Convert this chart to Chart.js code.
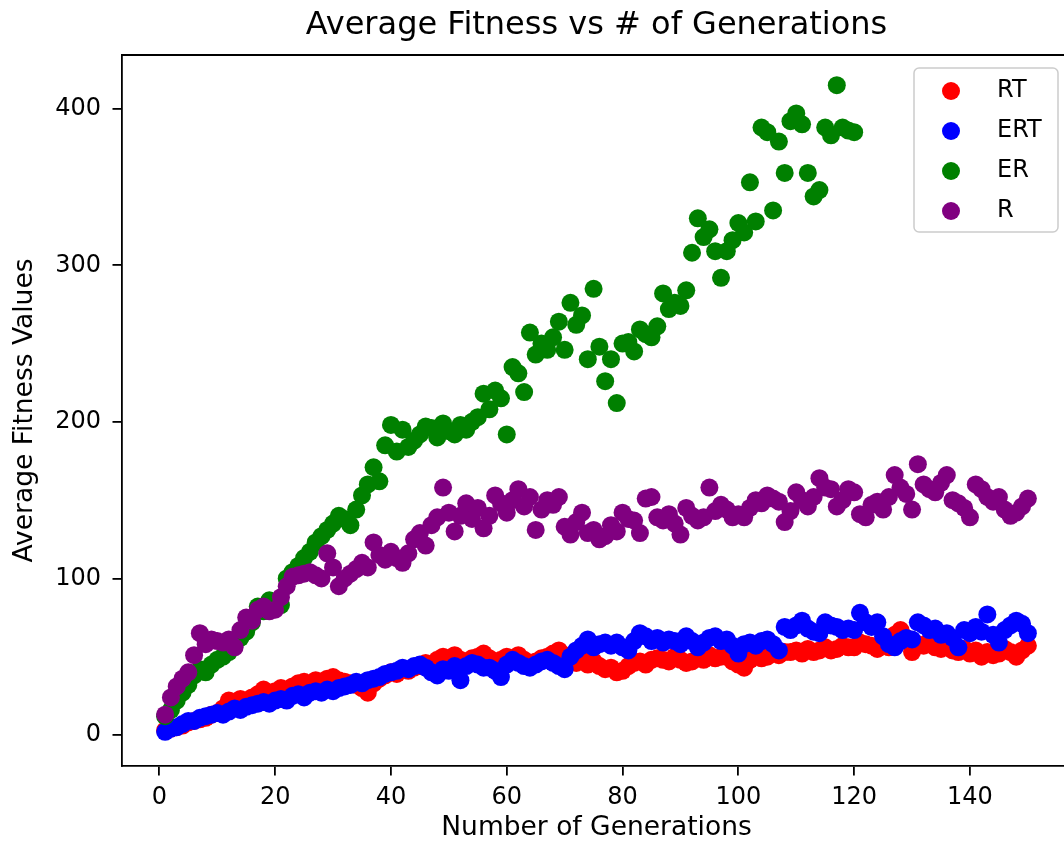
<!DOCTYPE html>
<html>
<head>
<meta charset="utf-8">
<title>Average Fitness vs # of Generations</title>
<script src="https://cdn.jsdelivr.net/npm/chart.js@4.4.1/dist/chart.umd.min.js"></script>
<style>
  html, body { margin: 0; padding: 0; background: #fff; overflow: hidden; }
  #wrap { width: 1064px; height: 846px; overflow: hidden; }
  canvas { display: block; }
</style>
</head>
<body>
<div id="wrap"><canvas id="fitness" width="1080" height="846"></canvas></div>
<script>
// average fitness per generation for each selection strategy
const rtFitness = [
  3, 4, 5, 6, 8, 9, 10, 11, 13, 14, 17, 22, 21, 23, 22, 24, 26, 29, 27, 28,
  30, 29, 31, 33, 34, 32, 35, 33, 36, 37, 35, 34, 33, 32, 30, 27, 33, 36, 38, 40,
  39, 42, 41, 43, 44, 46, 45, 48, 50, 49, 51, 48, 47, 49, 50, 52, 49, 47, 48, 50,
  49, 51, 48, 46, 47, 49, 50, 52, 54, 51, 49, 46, 48, 45, 47, 44, 42, 43, 40, 41,
  44, 46, 47, 45, 48, 49, 48, 47, 50, 48, 46, 47, 49, 48, 51, 49, 50, 50, 47, 45,
  43, 48, 51, 49, 50, 52, 51, 53, 53, 54, 52, 55, 53, 54, 56, 54, 55, 57, 56, 56,
  59, 58, 57, 55, 60, 56, 64, 67, 62, 53, 58, 57, 60, 56, 55, 57, 54, 53, 55, 52,
  54, 50, 53, 51, 52, 55, 53, 50, 54, 57
];
const ertFitness = [
  2, 4, 5, 7, 9, 9, 11, 12, 13, 14, 13, 15, 17, 16, 18, 19, 20, 21, 20, 22,
  23, 22, 25, 26, 24, 27, 28, 27, 29, 28, 30, 31, 32, 34, 33, 35, 36, 37, 39, 40,
  41, 43, 42, 44, 45, 43, 40, 38, 42, 41, 44, 35, 44, 46, 45, 43, 43, 41, 37, 45,
  48, 46, 44, 43, 45, 47, 48, 46, 44, 42, 50, 54, 57, 61, 56, 58, 59, 57, 59, 56,
  54, 60, 65, 63, 60, 62, 59, 61, 60, 58, 63, 60, 56, 59, 62, 63, 60, 61, 57, 52,
  58, 59, 57, 60, 61, 58, 54, 69, 67, 70, 73, 68, 66, 65, 72, 70, 69, 67, 68, 67,
  78, 72, 69, 72, 63, 58, 56, 60, 62, 61, 72, 70, 67, 68, 64, 65, 62, 56, 67, 65,
  69, 66, 77, 64, 59, 67, 70, 73, 71, 65
];
const erFitness = [
  12, 16, 22, 27, 32, 38, 42, 40, 45, 48, 50, 53, 58, 62, 66, 72, 82, 79, 86, 84,
  83, 100, 104, 108, 113, 117, 123, 127, 131, 135, 140, 138, 134, 144, 153, 160, 171, 162, 185, 198,
  181, 195, 184, 188, 192, 197, 196, 190, 199, 194, 192, 198, 195, 200, 203, 218, 208, 220, 215, 192,
  235, 231, 219, 257, 243, 250, 246, 254, 264, 246, 276, 262, 268, 240, 285, 248, 226, 240, 212, 250,
  251, 245, 259, 256, 254, 261, 282, 272, 276, 274, 284, 308, 330, 318, 323, 309, 292, 309, 316, 327,
  321, 353, 328, 388, 385, 335, 379, 359, 392, 397, 390, 359, 344, 348, 388, 383, 415, 388, 386, 385
];
const rFitness = [
  13, 24, 31, 36, 40, 51, 65, 58, 61, 60, 59, 61, 56, 67, 75, 73, 80, 82, 79, 80,
  88, 95, 101, 102, 103, 104, 102, 100, 116, 107, 95, 100, 103, 106, 110, 107, 123, 115, 112, 117,
  113, 110, 116, 125, 129, 121, 134, 139, 158, 142, 130, 140, 148, 138, 145, 132, 140, 153, 148, 142,
  150, 157, 146, 152, 131, 144, 150, 147, 152, 133, 128, 136, 142, 129, 131, 125, 127, 134, 130, 142,
  138, 137, 129, 151, 152, 139, 137, 141, 135, 128, 145, 140, 137, 139, 158, 143, 147, 144, 139, 141,
  139, 145, 150, 148, 153, 151, 149, 136, 143, 155, 150, 146, 152, 164, 158, 157, 146, 150, 157, 155,
  141, 139, 147, 149, 144, 152, 166, 158, 154, 144, 173, 160, 157, 155, 161, 166, 150, 148, 145, 139,
  160, 157, 152, 149, 152, 144, 140, 142, 146, 151
];

const seriesLabels = ['RT', 'ERT', 'ER', 'R'];
const seriesColors = ['#ff0000', '#0000ff', '#008000', '#800080'];
const xTickValues = [0, 20, 40, 60, 80, 100, 120, 140];
const yTickValues = [0, 100, 200, 300, 400];

const FONT = 'DejaVu Sans';
const SPINE = 1.8;

// generation number starts at 1
const toPoints = values => values.map((v, i) => ({ x: i + 1, y: v }));

const allSeries = [rtFitness, ertFitness, erFitness, rFitness];
const datasets = allSeries.map((values, i) => ({
  label: seriesLabels[i],
  data: toPoints(values),
  backgroundColor: seriesColors[i],
  borderWidth: 0,
  pointRadius: 9,
  pointHoverRadius: 9,
  // later series sit on top, like plt.scatter call order
  order: allSeries.length - i
}));

// top / right spines, chart.js only draws the left and bottom ones
const frame = {
  id: 'frame',
  afterDraw(chart) {
    const { ctx, chartArea } = chart;
    ctx.save();
    ctx.strokeStyle = '#000';
    ctx.lineWidth = SPINE;
    ctx.beginPath();
    ctx.moveTo(chartArea.left, chartArea.top);
    ctx.lineTo(chartArea.right, chartArea.top);
    ctx.lineTo(chartArea.right, chartArea.bottom);
    ctx.stroke();
    ctx.restore();
  }
};

// boxed legend in the upper right corner of the plot
const cornerLegend = {
  id: 'cornerLegend',
  afterDatasetsDraw(chart) {
    const { ctx, chartArea } = chart;
    const w = 144, h = 164, rowGap = 40;
    const x = chartArea.right - 13 - w;
    const y = chartArea.top + 13;
    ctx.save();
    ctx.fillStyle = 'rgba(255,255,255,0.8)';
    ctx.strokeStyle = '#cccccc';
    ctx.lineWidth = 1.5;
    ctx.beginPath();
    ctx.roundRect(x, y, w, h, 5);
    ctx.fill();
    ctx.stroke();
    ctx.font = `24px "${FONT}"`;
    ctx.textBaseline = 'middle';
    chart.data.datasets.forEach((ds, i) => {
      const cy = y + 23 + i * rowGap;
      ctx.fillStyle = ds.backgroundColor;
      ctx.beginPath();
      ctx.arc(x + 37, cy, 9, 0, Math.PI * 2);
      ctx.fill();
      ctx.fillStyle = '#000';
      ctx.fillText(ds.label, x + 83, cy);
    });
    ctx.restore();
  }
};

const ctx = document.getElementById('fitness').getContext('2d');

new Chart(ctx, {
  type: 'scatter',
  data: { datasets },
  options: {
    responsive: false,
    animation: false,
    events: [],
    layout: { padding: { left: 0, right: 8, top: 0, bottom: 0 } },
    plugins: {
      legend: { display: false },
      tooltip: { enabled: false },
      title: {
        display: true,
        // centred over the plot area, not the whole canvas
        fullSize: false,
        text: 'Average Fitness vs # of Generations',
        color: '#000',
        font: { family: FONT, size: 32, weight: 'normal', lineHeight: 1.2 },
        padding: { top: 6, bottom: 10.6 }
      }
    },
    scales: {
      x: {
        type: 'linear',
        min: -6.45,
        max: 157.45,
        afterBuildTicks: scale => { scale.ticks = xTickValues.map(v => ({ value: v })); },
        afterFit: scale => { scale.height = 80; },
        grid: { drawOnChartArea: false, drawTicks: true, tickLength: 9.5, color: '#000', lineWidth: SPINE },
        border: { display: true, color: '#000', width: SPINE },
        ticks: { color: '#000', padding: 8, font: { family: FONT, size: 24 } },
        title: {
          display: true,
          text: 'Number of Generations',
          color: '#000',
          font: { family: FONT, size: 26.5 },
          padding: { top: 2, bottom: 2 }
        }
      },
      y: {
        type: 'linear',
        min: -19.8,
        max: 434.3,
        afterBuildTicks: scale => { scale.ticks = yTickValues.map(v => ({ value: v })); },
        afterFit: scale => { scale.width = 122; },
        grid: { drawOnChartArea: false, drawTicks: true, tickLength: 9.5, color: '#000', lineWidth: SPINE },
        border: { display: true, color: '#000', width: SPINE },
        ticks: { color: '#000', padding: 11.5, font: { family: FONT, size: 24 } },
        title: {
          display: true,
          text: 'Average Fitness Values',
          color: '#000',
          font: { family: FONT, size: 26.5 },
          padding: { top: 9, bottom: 0 }
        }
      }
    }
  },
  plugins: [frame, cornerLegend]
});
</script>
</body>
</html>
